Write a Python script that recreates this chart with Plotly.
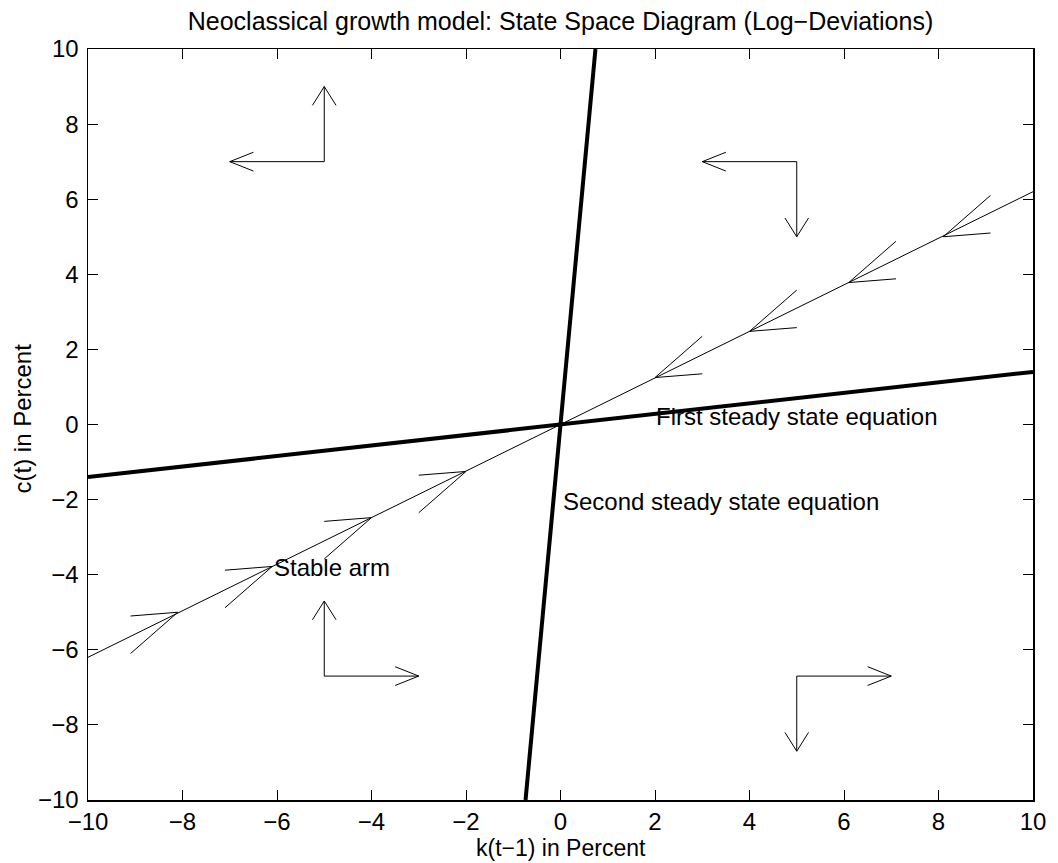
import plotly.graph_objects as go

# ---------------- data ----------------
k_ends = [-10, 10]
first_ss_c = [-1.4, 1.4]            # first steady state equation
second_ss_k = [-0.74, 0.74]         # second steady state equation
second_ss_c = [-10, 10]
stable_arm_c = [-6.2, 6.2]          # stable arm

# arrow tips on the stable arm (pointing toward the origin)
arm_tip_k = [-8.1, -6.1, -4.0, -2.0, 2.0, 4.0, 6.1, 8.1]
arm_tip_c = [-5.0, -3.78, -2.48, -1.25, 1.25, 2.48, 3.78, 5.0]
arm_barb1 = [1.0, 1.1]   # barb offsets (outward side), in data units
arm_barb2 = [1.0, 0.1]

# phase-diagram direction arrows: corner, horizontal dir, vertical dir
phase_k = [-5, 5, -5, 5]
phase_c = [7, 7, -6.7, -6.7]
phase_dk = [-1, -1, 1, 1]
phase_dc = [1, -1, 1, -1]
phase_len = 2.0
head_back = 0.5
head_side = 0.25

labels = [
    ("First steady state equation", 2.0, 0.2),
    ("Second steady state equation", 0.03, -2.05),
    ("Stable arm", -6.08, -3.8),
]

x_ticks = [-10, -8, -6, -4, -2, 0, 2, 4, 6, 8, 10]
y_ticks = [-10, -8, -6, -4, -2, 0, 2, 4, 6, 8, 10]

FONT = "Liberation Sans, Arial, Helvetica, sans-serif"
FS = 24

fig = go.Figure()

# thick steady-state lines
fig.add_trace(go.Scatter(x=k_ends, y=first_ss_c, mode="lines",
                         line=dict(color="black", width=4), hoverinfo="skip"))
fig.add_trace(go.Scatter(x=second_ss_k, y=second_ss_c, mode="lines",
                         line=dict(color="black", width=4), hoverinfo="skip"))

# stable arm
fig.add_trace(go.Scatter(x=k_ends, y=stable_arm_c, mode="lines",
                         line=dict(color="black", width=1), hoverinfo="skip"))

# arrowheads on stable arm
ax, ay = [], []
for k, c in zip(arm_tip_k, arm_tip_c):
    s = 1 if k > 0 else -1
    for b in (arm_barb1, arm_barb2):
        ax += [k + s * b[0], k, None]
        ay += [c + s * b[1], c, None]
fig.add_trace(go.Scatter(x=ax, y=ay, mode="lines",
                         line=dict(color="black", width=1), hoverinfo="skip"))

# phase arrows
px, py = [], []
for k0, c0, dk, dc in zip(phase_k, phase_c, phase_dk, phase_dc):
    tk = k0 + dk * phase_len
    px += [k0, tk, None]
    py += [c0, c0, None]
    px += [tk - dk * head_back, tk, tk - dk * head_back, None]
    py += [c0 + head_side, c0, c0 - head_side, None]
    tc = c0 + dc * phase_len
    px += [k0, k0, None]
    py += [c0, tc, None]
    px += [k0 - head_side, k0, k0 + head_side, None]
    py += [tc - dc * head_back, tc, tc - dc * head_back, None]
fig.add_trace(go.Scatter(x=px, y=py, mode="lines",
                         line=dict(color="black", width=1), hoverinfo="skip"))

for txt, k, c in labels:
    fig.add_annotation(x=k, y=c, text=txt, showarrow=False,
                       xanchor="left", yanchor="middle", borderpad=0,
                       font=dict(family=FONT, size=FS, color="black"))

# axis titles
fig.add_annotation(xref="paper", yref="paper", x=0.5, y=0, yshift=-48,
                   text="k(t\u22121) in Percent", showarrow=False,
                   xanchor="center", yanchor="middle", borderpad=0,
                   font=dict(family=FONT, size=23, color="black"))
fig.add_annotation(xref="paper", yref="paper", x=0, y=0.5, xshift=-66, yshift=6,
                   text="c(t) in Percent", showarrow=False, textangle=-90,
                   xanchor="center", yanchor="middle", borderpad=0,
                   font=dict(family=FONT, size=FS, color="black"))

axis_common = dict(range=[-10, 10], showgrid=False, zeroline=False,
                   showline=True, linecolor="black", linewidth=1.5,
                   mirror="ticks", ticks="inside", ticklen=10,
                   tickcolor="black", tickwidth=1,
                   fixedrange=True)

fig.update_layout(
    width=1058, height=863,
    margin=dict(l=88, r=17, t=49, b=63),
    paper_bgcolor="white", plot_bgcolor="white",
    showlegend=False,
    title=dict(text="Neoclassical growth model: State Space Diagram (Log\u2212Deviations)",
               x=0.5, xref="paper", y=1 - 21 / 863, yref="container",
               xanchor="center", yanchor="middle",
               font=dict(family=FONT, size=25, color="black")),
    xaxis=dict(tickvals=x_ticks, ticktext=[str(v).replace("-", "\u2212") for v in x_ticks],
               tickfont=dict(family=FONT, size=FS, color="black"),
               **axis_common),
    yaxis=dict(tickvals=y_ticks, ticktext=[str(v).replace("-", "\u2212") for v in y_ticks],
               tickfont=dict(family=FONT, size=FS, color="black"),
               ticklabelstandoff=3, **axis_common),
)

fig.write_html("out.html",
               config={"displayModeBar": False, "staticPlot": True},
               post_script="document.body.style.margin='0';document.body.style.padding='0';")
